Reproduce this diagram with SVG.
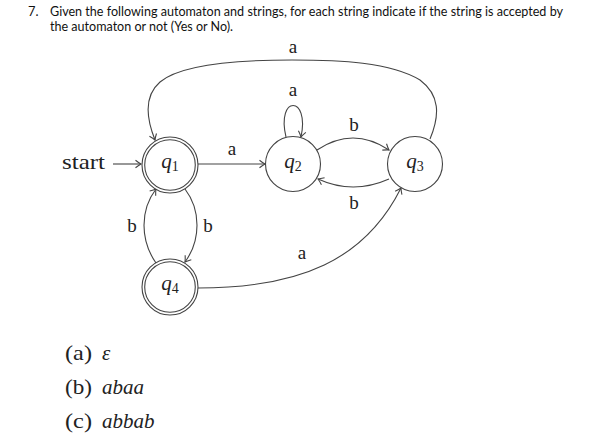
<svg xmlns="http://www.w3.org/2000/svg" width="593" height="444" viewBox="0 0 593 444">
<defs>
<style>
.title{font-family:Lato,"Liberation Sans",Arial,sans-serif;font-size:12.8px;fill:#111}
.lbl{font-family:"Liberation Serif","Times New Roman",serif;font-size:19px;fill:#222;text-anchor:middle}
.nd{font-family:"Liberation Serif","Times New Roman",serif;font-size:21px;fill:#222;text-anchor:middle}
.lst{font-family:"Liberation Serif","Times New Roman",serif;font-size:21px;fill:#222}
.st{fill:#fff;stroke:#444;stroke-width:1.1}
.edge{fill:none;stroke:#444;stroke-width:1.1;marker-end:url(#arr)}
</style>
<marker id="arr" viewBox="-7 -5 9 10" markerWidth="9" markerHeight="10" refX="0" refY="0" orient="auto" markerUnits="userSpaceOnUse">
<path d="M-5.5,-3.8 Q-2,-1 0,0 Q-2,1 -5.5,3.8" fill="none" stroke="#444" stroke-width="1.1"/>
</marker>
</defs>
<rect width="593" height="444" fill="#fff"/>
<g id="question">
<text class="title" x="28" y="16">7.</text>
<text class="title" x="50" y="16" textLength="513" lengthAdjust="spacingAndGlyphs">Given the following automaton and strings, for each string indicate if the string is accepted by</text>
<text class="title" x="50" y="31" textLength="183" lengthAdjust="spacingAndGlyphs">the automaton or not (Yes or No).</text>
</g>
<g id="connectors">
<path class="edge" d="M113,164 L141,164"/>
<path class="edge" d="M198,164 L265,164"/>
<path class="edge" d="M430,139 C440,115 440,95 420,80 C390,62 340,60 292,60 C230,60 180,65 160,82 C145,95 145,115 155,140"/>
<path class="edge" d="M286,137 C276,95 310,95 301,137"/>
<path class="edge" d="M317,150 Q353,126 389,150"/>
<path class="edge" d="M389,179 Q353,195 318,179"/>
<path class="edge" d="M185,189 C201,210 201,240 185,262"/>
<path class="edge" d="M156,263 C140,240 140,210 156,189"/>
<path class="edge" d="M198,288 C300,288 365,260 401,188"/>
<text class="lbl" x="293" y="53">a</text>
<text class="lbl" x="293" y="96">a</text>
<text class="lbl" x="232" y="155">a</text>
<text class="lbl" x="354" y="131">b</text>
<text class="lbl" x="354" y="209">b</text>
<text class="lbl" x="208" y="232">b</text>
<text class="lbl" x="132" y="232">b</text>
<text class="lbl" x="302" y="259">a</text>
<text class="lbl" x="62" y="169" style="text-anchor:start;font-size:21px" textLength="43" lengthAdjust="spacingAndGlyphs">start</text>
</g>
<g id="q1">
<circle class="st" cx="170" cy="165" r="28"/>
<circle class="st" cx="170" cy="165" r="25.3"/>
<text class="nd" x="170" y="168"><tspan font-style="italic">q</tspan><tspan font-size="14" dy="3">1</tspan></text>
</g>
<g id="q2">
<circle class="st" cx="293" cy="164" r="27.5"/>
<text class="nd" x="293" y="168"><tspan font-style="italic">q</tspan><tspan font-size="14" dy="3">2</tspan></text>
</g>
<g id="q3">
<circle class="st" cx="415" cy="164" r="27.5"/>
<text class="nd" x="415" y="168"><tspan font-style="italic">q</tspan><tspan font-size="14" dy="3">3</tspan></text>
</g>
<g id="q4">
<circle class="st" cx="170" cy="287" r="28"/>
<circle class="st" cx="170" cy="287" r="25.3"/>
<text class="nd" x="170" y="290"><tspan font-style="italic">q</tspan><tspan font-size="14" dy="3">4</tspan></text>
</g>
<g id="strings">
<text class="lst" x="65" y="360" textLength="27" lengthAdjust="spacingAndGlyphs">(a)</text>
<text class="lst" x="102" y="360" font-style="italic">ε</text>
<text class="lst" x="65" y="394" textLength="27" lengthAdjust="spacingAndGlyphs">(b)</text>
<text class="lst" x="102" y="394" font-style="italic">abaa</text>
<text class="lst" x="65" y="428" textLength="27" lengthAdjust="spacingAndGlyphs">(c)</text>
<text class="lst" x="102" y="428" font-style="italic">abbab</text>
</g>
</svg>
